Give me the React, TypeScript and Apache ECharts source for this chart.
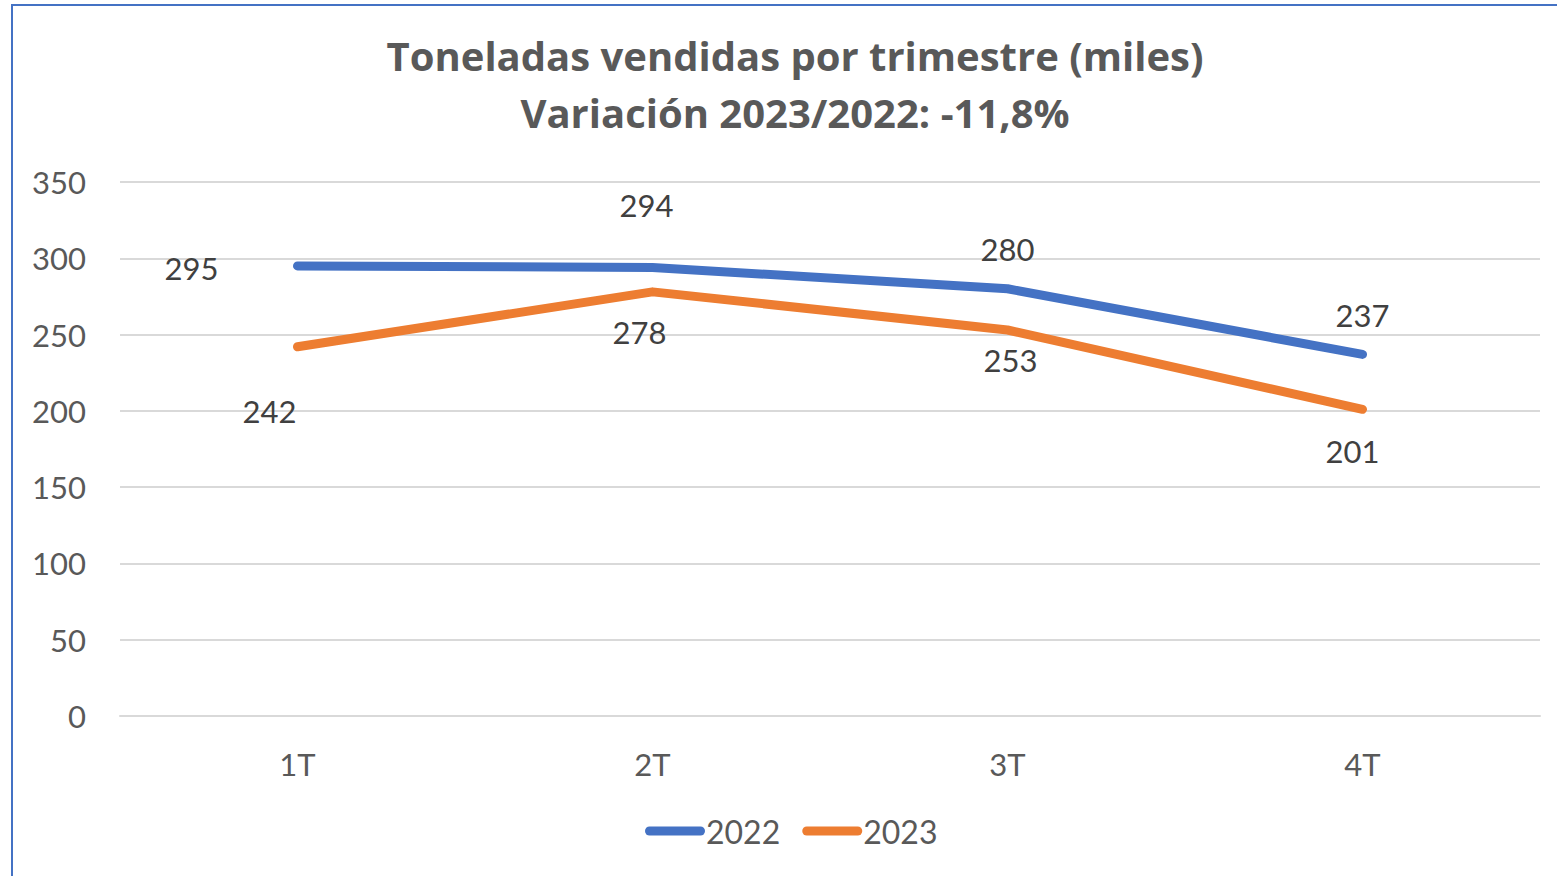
import React, { useEffect, useRef } from "react";
import * as echarts from "echarts";

const categories = ["1T", "2T", "3T", "4T"];
const values2022 = [295, 294, 280, 237];
const values2023 = [242, 278, 253, 201];
const yTicks = { min: 0, max: 350, interval: 50 };

// label offsets (pixels) per point, as placed in the original
const labelOffsets2022 = [[-106, 2], [-6, -62], [0, -40], [0, -39]];
const labelOffsets2023 = [[-28, 64], [-13, 40], [3, 30], [-10, 42]];

const FONT = "Lato";

function buildData(vals: number[], offs: number[][]) {
  return vals.map((v, i) => ({
    value: v,
    label: { offset: offs[i] },
  }));
}

export default function App() {
  const ref = useRef<HTMLDivElement>(null);
  useEffect(() => {
    if (!ref.current) return;
    const chart = echarts.init(ref.current, undefined, { renderer: "svg" });
    const legendIcon =
      "path://M4.5,0 H55.5 A4.5,4.5 0 0 1 55.5,9 H4.5 A4.5,4.5 0 0 1 4.5,0 Z";
    const labelCommon = {
      show: true,
      position: "inside",
      color: "#404040",
      fontSize: 31,
      fontFamily: FONT,
    };
    chart.setOption({
      animation: false,
      backgroundColor: "#ffffff",
      title: {
        text: "Toneladas vendidas por trimestre (miles)\nVariación 2023/2022: -11,8%",
        left: 790,
        top: 22,
        textAlign: "center",
        textStyle: {
          fontFamily: "Open Sans",
          fontWeight: "bold",
          fontSize: 40,
          color: "#595959",
          lineHeight: 57,
        },
      },
      legend: {
        left: 640,
        top: 810,
        itemWidth: 60,
        itemHeight: 9,
        itemGap: 22,
        icon: legendIcon,
        textStyle: { fontFamily: FONT, fontSize: 32, color: "#595959", padding: [0, 0, 0, -4] },
        data: ["2022", "2023"],
      },
      grid: { left: 120, right: 17, top: 182, bottom: 160 },
      xAxis: {
        type: "category",
        data: categories,
        boundaryGap: true,
        axisLine: { show: true, lineStyle: { color: "#D9D9D9", width: 2 } },
        axisTick: { show: false },
        axisLabel: { color: "#595959", fontFamily: FONT, fontSize: 31, margin: 32 },
      },
      yAxis: {
        type: "value",
        min: yTicks.min,
        max: yTicks.max,
        interval: yTicks.interval,
        axisLine: { show: false },
        axisTick: { show: false },
        axisLabel: { color: "#595959", fontFamily: FONT, fontSize: 31, margin: 34, padding: [0, 0, 2, 0] },
        splitLine: { lineStyle: { color: "#D9D9D9", width: 2 } },
      },
      series: [
        {
          name: "2022",
          type: "line",
          data: buildData(values2022, labelOffsets2022),
          symbol: "circle",
          symbolSize: 2,
          showSymbol: true,
          color: "#4472C4",
          lineStyle: { color: "#4472C4", width: 9, cap: "round", join: "round" },
          itemStyle: { color: "#4472C4" },
          label: labelCommon,
        },
        {
          name: "2023",
          type: "line",
          data: buildData(values2023, labelOffsets2023),
          symbol: "circle",
          symbolSize: 2,
          showSymbol: true,
          color: "#ED7D31",
          lineStyle: { color: "#ED7D31", width: 9, cap: "round", join: "round" },
          itemStyle: { color: "#ED7D31" },
          label: labelCommon,
        },
      ],
    });
    return () => chart.dispose();
  }, []);
  return (
    <div style={{ position: "fixed", left: 0, top: 0, width: 1557, height: 876, background: "#fff" }}>
      <div ref={ref} style={{ position: "absolute", left: 0, top: 0, width: 1557, height: 876 }} />
      <div
        style={{
          position: "absolute",
          left: 11,
          top: 4,
          right: 0,
          bottom: 0,
          borderLeft: "2px solid #4472C4",
          borderTop: "2px solid #4472C4",
          pointerEvents: "none",
        }}
      />
    </div>
  );
}
